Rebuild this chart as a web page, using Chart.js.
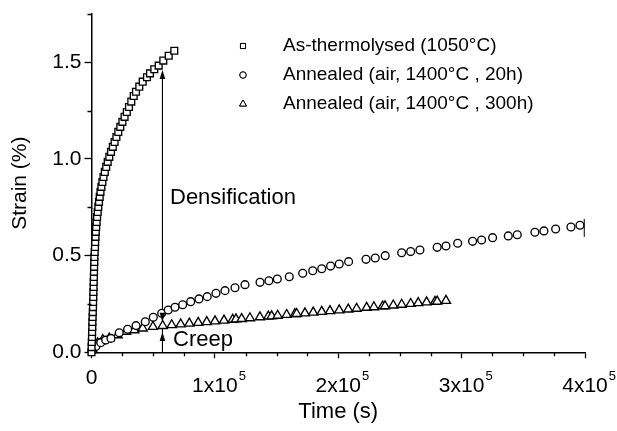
<!DOCTYPE html>
<html>
<head>
<meta charset="utf-8">
<script src="https://cdn.jsdelivr.net/npm/chart.js@4.4.1/dist/chart.umd.min.js"></script>
<style>
  html, body { margin: 0; padding: 0; background: #fff; }
</style>
</head>
<body>
<canvas id="strainChart" width="617" height="431"></canvas>
<script>
const FONT = "'Liberation Sans', Arial, sans-serif";

// As-thermolysed (1050°C)
const asTime = [0, 80, 240, 400, 490, 650, 730, 890, 1050, 1220, 1300, 1460, 1540, 1700, 1780, 1950, 2030, 2110, 2270, 2350,
  2590, 2840, 3000, 3240, 3480, 3810, 4130, 4540, 5020, 5510, 6080, 6650, 7290, 8020, 8830, 9720, 10780, 11910, 13130, 14430,
  15800, 17260, 18720, 20180, 21720, 23340, 25040, 26820, 28610, 30390, 32250, 34200, 36060, 38740, 41490, 44980, 47410, 50890,
  54460, 58190, 62560, 67100];
const asStrain = [0.00, 0.027, 0.053, 0.079, 0.105, 0.131, 0.157, 0.183, 0.208, 0.234, 0.260, 0.286, 0.312, 0.338, 0.364, 0.390,
  0.416, 0.442, 0.467, 0.493, 0.519, 0.545, 0.571, 0.597, 0.623, 0.648, 0.674, 0.700, 0.726, 0.752, 0.778, 0.804, 0.830, 0.856,
  0.881, 0.907, 0.933, 0.959, 0.985, 1.011, 1.037, 1.063, 1.088, 1.114, 1.140, 1.166, 1.192, 1.218, 1.243, 1.269, 1.297, 1.326,
  1.348, 1.374, 1.400, 1.423, 1.443, 1.464, 1.483, 1.509, 1.534, 1.560];

// Annealed (air, 1400°C, 20h)
const an20Time = [500, 3500, 7500, 11500, 15800, 22500, 29300, 36100, 43600, 50100, 56900, 62200, 67700, 73900, 80400, 87100,
  93800, 100900, 108200, 116300, 124400, 136600, 143800, 150600, 160300, 171200, 179300, 186600, 193800, 200800, 208400, 222500,
  230000, 238100, 251400, 258700, 266200, 280200, 287300, 296800, 308900, 316200, 325100, 337800, 345100, 359400, 366700, 376200,
  388600, 395900];
const an20Strain = [0.008, 0.030, 0.050, 0.063, 0.072, 0.101, 0.119, 0.138, 0.158, 0.181, 0.202, 0.219, 0.233, 0.246, 0.262, 0.276,
  0.288, 0.305, 0.319, 0.334, 0.350, 0.362, 0.370, 0.379, 0.391, 0.409, 0.422, 0.432, 0.446, 0.457, 0.469, 0.481,
  0.488, 0.500, 0.515, 0.521, 0.529, 0.543, 0.550, 0.564, 0.574, 0.581, 0.593, 0.602, 0.608, 0.621, 0.628, 0.638,
  0.648, 0.657];

// Annealed (air, 1400°C, 300h)
const an300Time = [1000, 5000, 9100, 14400, 21200, 28000, 34700, 41500, 49800, 57700, 65000, 72300, 79300, 86500, 93400, 100100,
  107400, 114400, 117100, 121700, 128400, 136500, 143300, 146000, 150900, 158200, 164900, 166300, 173000, 179700, 186600, 193300,
  200800, 208100, 214900, 223000, 228900, 236000, 237900, 244600, 251400, 258700, 264800, 271600, 278400, 280200, 287300];
const an300Strain = [0.012, 0.047, 0.064, 0.072, 0.089, 0.107, 0.115, 0.124, 0.132, 0.137, 0.141, 0.145, 0.149, 0.153, 0.157, 0.161,
  0.165, 0.169, 0.171, 0.173, 0.177, 0.182, 0.186, 0.187, 0.190, 0.194, 0.198, 0.199, 0.202, 0.206, 0.210, 0.214,
  0.218, 0.222, 0.226, 0.231, 0.234, 0.238, 0.239, 0.243, 0.247, 0.251, 0.255, 0.259, 0.262, 0.263, 0.267];

// short bar at the end of the 20h run
const barTime = [399400, 399400];
const barStrain = [0.597, 0.690];

// axes
const xMajor = [0, 100000, 200000, 300000, 400000];
const xMinor = [25000, 50000, 75000, 125000, 150000, 175000, 225000, 250000, 275000, 325000, 350000, 375000];
const xLabels = ['0', '1x10', '2x10', '3x10', '4x10'];
const xSup = ['', '5', '5', '5', '5'];
const yMajor = [0, 0.5, 1.0, 1.5];
const yMinor = [0.25, 0.75, 1.25, 1.75];

// arrow (densification / creep)
const arrowTime = 57500;
const arrowTop = 1.46;
const densBottom = 0.158;
const creepTop = 0.105;

const legendItems = [
  { text: 'As-thermolysed (1050°C)', style: 'rect', r: 3.6 },
  { text: 'Annealed (air, 1400°C , 20h)', style: 'circle', r: 3.2 },
  { text: 'Annealed (air, 1400°C , 300h)', style: 'triangle', r: 4 }
];

function pts(xs, ys) {
  return xs.map((v, i) => ({ x: v, y: ys[i] }));
}

function arrowHead(ctx, px, py, dir) {
  // dir: -1 pointing up, 1 pointing down
  ctx.beginPath();
  ctx.moveTo(px, py);
  ctx.lineTo(px - 2.8, py - dir * 9);
  ctx.lineTo(px + 2.8, py - dir * 9);
  ctx.closePath();
  ctx.fill();
}

const decorPlugin = {
  id: 'decor',
  afterDraw(chart) {
    const ctx = chart.ctx;
    const x = chart.scales.x;
    const y = chart.scales.y;
    ctx.save();
    ctx.strokeStyle = '#000';
    ctx.fillStyle = '#000';
    ctx.lineWidth = 1.3;

    // minor ticks
    ctx.beginPath();
    xMinor.forEach(v => {
      const px = Math.round(x.getPixelForValue(v)) + 0.5;
      ctx.moveTo(px, y.bottom);
      ctx.lineTo(px, y.bottom + 4);
    });
    yMinor.forEach(v => {
      const py = Math.round(y.getPixelForValue(v)) + 0.5;
      ctx.moveTo(x.left, py);
      ctx.lineTo(x.left - 4, py);
    });
    ctx.stroke();

    // x tick labels with superscripts
    ctx.textBaseline = 'alphabetic';
    xMajor.forEach((v, i) => {
      const px = x.getPixelForValue(v);
      ctx.font = '21px ' + FONT;
      ctx.textAlign = 'center';
      if (!xSup[i]) {
        ctx.fillText(xLabels[i], px, 384);
        return;
      }
      const w = ctx.measureText(xLabels[i]).width;
      ctx.fillText(xLabels[i], px, 392);
      ctx.font = '13px ' + FONT;
      ctx.textAlign = 'left';
      ctx.fillText(xSup[i], px + w / 2 + 1, 380);
    });

    // arrow heads
    const ax = x.getPixelForValue(arrowTime);
    arrowHead(ctx, ax, y.getPixelForValue(arrowTop), -1);
    arrowHead(ctx, ax, y.getPixelForValue(densBottom), 1);
    arrowHead(ctx, ax, y.getPixelForValue(creepTop), -1);

    // annotations
    ctx.font = '22px ' + FONT;
    ctx.textAlign = 'left';
    ctx.textBaseline = 'middle';
    ctx.fillText('Densification', 170, 198);
    ctx.fillText('Creep', 173, 340);

    // legend
    ctx.font = '19px ' + FONT;
    legendItems.forEach((item, i) => {
      const ly = 46 + i * 29;
      ctx.fillStyle = '#fff';
      ctx.strokeStyle = '#000';
      ctx.lineWidth = 1;
      Chart.helpers.drawPoint(ctx, { pointStyle: item.style, radius: item.r, borderWidth: 1 }, 243, ly);
      ctx.fill();
      ctx.stroke();
      ctx.fillStyle = '#000';
      ctx.fillText(item.text, 283, ly);
    });
    ctx.restore();
  }
};

const markerBase = {
  borderColor: '#000',
  backgroundColor: '#fff',
  pointBorderWidth: 1.35,
  showLine: false,
  clip: false
};

new Chart(document.getElementById('strainChart'), {
  type: 'scatter',
  data: {
    datasets: [
      Object.assign({ label: 'As-thermolysed (1050°C)', data: pts(asTime, asStrain), pointStyle: 'rect', pointRadius: 4.8 }, markerBase),
      Object.assign({ label: 'Annealed (air, 1400°C , 20h)', data: pts(an20Time, an20Strain), pointStyle: 'circle', pointRadius: 3.9 }, markerBase),
      Object.assign({ label: 'Annealed (air, 1400°C , 300h)', data: pts(an300Time, an300Strain), pointStyle: 'triangle', pointRadius: 5.3 }, markerBase),
      { label: 'bar', data: pts(barTime, barStrain), showLine: true, pointRadius: 0, borderColor: '#000', borderWidth: 1, clip: false },
      { label: 'arrow', data: [{ x: arrowTime, y: 0 }, { x: arrowTime, y: arrowTop - 0.03 }], showLine: true, pointRadius: 0, borderColor: '#000', borderWidth: 1.1 }
    ]
  },
  options: {
    responsive: false,
    animation: false,
    events: [],
    layout: { padding: { top: 14, right: 32, left: 0, bottom: 0 } },
    plugins: { legend: { display: false }, tooltip: { enabled: false } },
    scales: {
      x: {
        type: 'linear',
        min: 0,
        max: 400000,
        afterBuildTicks: s => { s.ticks = xMajor.map(v => ({ value: v })); },
        afterFit: s => { s.height = 78.7; },
        ticks: { callback: () => '', font: { size: 21, family: FONT } },
        grid: { drawOnChartArea: false, tickLength: 6, tickColor: '#000', tickWidth: 1.3 },
        border: { color: '#000', width: 1.5 },
        title: { display: true, text: 'Time (s)', color: '#000', font: { size: 22, family: FONT }, padding: { top: 0, bottom: 6 } }
      },
      y: {
        type: 'linear',
        min: 0,
        max: 1.75,
        afterBuildTicks: s => { s.ticks = yMajor.map(v => ({ value: v })); },
        afterFit: s => { s.width = 91.5; },
        ticks: { color: '#000', padding: 3, font: { size: 21, family: FONT, lineHeight: 1 }, callback: v => v.toFixed(1) },
        grid: { drawOnChartArea: false, tickLength: 7, tickColor: '#000', tickWidth: 1.3 },
        border: { color: '#000', width: 1.5 },
        title: { display: true, text: 'Strain (%)', color: '#000', font: { size: 21, family: FONT }, padding: { top: 8, bottom: 0 } }
      }
    }
  },
  plugins: [decorPlugin]
});
</script>
</body>
</html>
